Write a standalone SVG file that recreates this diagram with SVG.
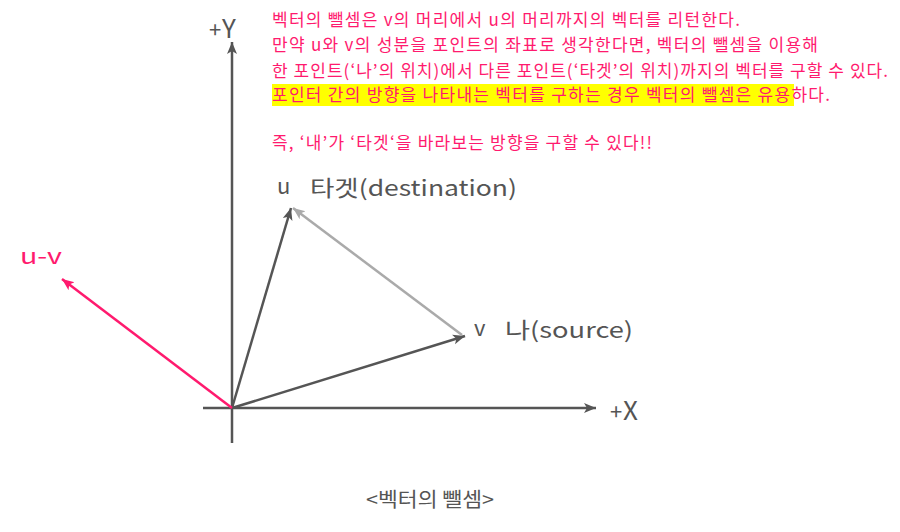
<svg xmlns="http://www.w3.org/2000/svg" width="900" height="532" viewBox="0 0 900 532">
<style>
.t{font-family:"Noto Sans CJK KR","Noto Sans",sans-serif;}
.pink{fill:#ff1a6e;font-size:17px;}
.lab{fill:#555;font-size:22px;}
.ax{stroke:#555;stroke-width:2.5;fill:none;}
</style>
<defs>
<marker id="ad" markerUnits="userSpaceOnUse" markerWidth="14" markerHeight="12" refX="12" refY="6" orient="auto"><path d="M0,1 L12,6 L0,11 L3,6 Z" fill="#555"/></marker>
<marker id="ag" markerUnits="userSpaceOnUse" markerWidth="14" markerHeight="12" refX="12" refY="6" orient="auto"><path d="M0,1 L12,6 L0,11 L3,6 Z" fill="#aaa"/></marker>
<marker id="ap" markerUnits="userSpaceOnUse" markerWidth="14" markerHeight="12" refX="12" refY="6" orient="auto"><path d="M0,1 L12,6 L0,11 L3,6 Z" fill="#ff1a6e"/></marker>
</defs>
<rect width="900" height="532" fill="#fff"/>
<g id="text-block" class="t">
<rect x="272" y="84" width="522" height="22" fill="#ffff00"/>
<text class="t pink" x="272" y="26" textLength="468" lengthAdjust="spacing">벡터의 뺄셈은 v의 머리에서 u의 머리까지의 벡터를 리턴한다.</text>
<text class="t pink" x="272" y="51" textLength="546" lengthAdjust="spacing">만약 u와 v의 성분을 포인트의 좌표로 생각한다면, 벡터의 뺄셈을 이용해</text>
<text class="t pink" x="272" y="77" textLength="616" lengthAdjust="spacing">한 포인트(‘나’의 위치)에서 다른 포인트(‘타겟’의 위치)까지의 벡터를 구할 수 있다.</text>
<text class="t pink" x="272" y="101" textLength="558" lengthAdjust="spacing">포인터 간의 방향을 나타내는 벡터를 구하는 경우 벡터의 뺄셈은 유용하다.</text>
<text class="t pink" x="272" y="149" textLength="380" lengthAdjust="spacing">즉, ‘내’가 ‘타겟‘을 바라보는 방향을 구할 수 있다!!</text>
</g>
<g id="connectors">
<line class="ax" x1="232" y1="443" x2="232" y2="42" marker-end="url(#ad)"/>
<line class="ax" x1="203" y1="408" x2="596" y2="408" marker-end="url(#ad)"/>
<line x1="232" y1="408" x2="291" y2="208" stroke="#555" stroke-width="2.5" marker-end="url(#ad)"/>
<line x1="232" y1="408" x2="465" y2="336" stroke="#555" stroke-width="2.5" marker-end="url(#ad)"/>
<line x1="462" y1="335" x2="293" y2="208" stroke="#aaa" stroke-width="2.5" marker-end="url(#ag)"/>
<line x1="232" y1="408" x2="62" y2="279" stroke="#ff1a6e" stroke-width="2.5" marker-end="url(#ap)"/>
</g>
<g id="axis-y" class="t"><text x="209" y="38" fill="#555" font-size="22">+</text><text x="222" y="38" fill="#555" font-size="26">Y</text></g>
<g id="axis-x" class="t"><text x="610" y="420" fill="#555" font-size="22">+</text><text x="623" y="420" fill="#555" font-size="26">X</text></g>
<g id="u" class="t"><text class="lab" x="277" y="194">u</text><text class="lab" x="310" y="196" textLength="207" lengthAdjust="spacingAndGlyphs">타겟(destination)</text></g>
<g id="v" class="t"><text class="lab" x="474" y="336">v</text><text class="lab" x="505" y="338" textLength="128" lengthAdjust="spacingAndGlyphs">나(source)</text></g>
<g id="uv" class="t"><text x="20" y="264" fill="#ff1a6e" font-size="22" textLength="42" lengthAdjust="spacingAndGlyphs">u-v</text></g>
<g id="caption" class="t"><text x="366" y="507" fill="#555" font-size="20" textLength="128" lengthAdjust="spacingAndGlyphs">&lt;벡터의 뺄셈&gt;</text></g>
</svg>
